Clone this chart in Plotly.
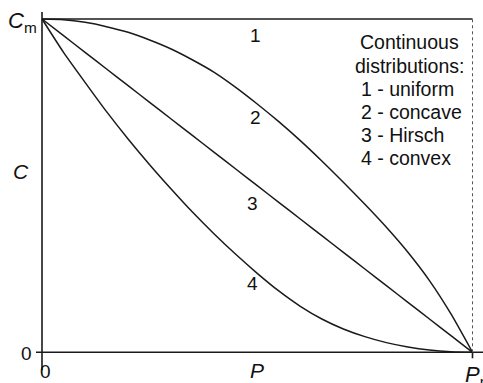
import plotly.graph_objects as go

# Relative pore size P/Pm and relative concentration C/Cm
P = [0.0, 0.05, 0.1, 0.15, 0.2, 0.25, 0.3, 0.35, 0.4, 0.45, 0.5,
     0.55, 0.6, 0.65, 0.7, 0.75, 0.8, 0.85, 0.9, 0.95, 1.0]
uniform = [1.0] * len(P)
concave = [1.0, 0.998, 0.99, 0.977, 0.96, 0.937, 0.91, 0.877, 0.84, 0.795, 0.745,
           0.692, 0.635, 0.574, 0.51, 0.444, 0.375, 0.3, 0.215, 0.115, 0.0]
hirsch = [1.0, 0.95, 0.9, 0.85, 0.8, 0.75, 0.7, 0.65, 0.6, 0.55, 0.5,
          0.45, 0.4, 0.35, 0.3, 0.25, 0.2, 0.15, 0.1, 0.05, 0.0]
convex = [1.0, 0.9, 0.81, 0.722, 0.64, 0.563, 0.49, 0.42, 0.355, 0.294, 0.237,
          0.184, 0.138, 0.1, 0.07, 0.047, 0.029, 0.016, 0.007, 0.002, 0.0]

curve_labels = ["1", "2", "3", "4"]
curve_label_pos = [(0.495, 0.95), (0.495, 0.705), (0.49, 0.445), (0.49, 0.205)]
legend_lines = ["Continuous", "distributions:", "1 - uniform", "2 - concave", "3 - Hirsch", "4 - convex"]

W, H = 483, 383
x0_px, x1_px = 42.0, 472.5
y1_px, y0_px = 19.0, 352.3
sx = x1_px - x0_px
sy = y0_px - y1_px
xr = [-x0_px / sx, (W - x0_px) / sx]
yr = [(y0_px - H) / sy, y0_px / sy]

FONT = "Liberation Sans, Arial, sans-serif"
LINE = dict(color="#1a1a1a", width=1.5)

fig = go.Figure()
for ys in (uniform, concave, hirsch, convex):
    fig.add_trace(go.Scatter(x=P, y=ys, mode="lines", line=dict(LINE, shape="spline", smoothing=0.6),
                             hoverinfo="skip", showlegend=False))

shapes = [
    # axes
    dict(type="line", x0=0, x1=0, y0=-18 / sy, y1=1 + 7 / sy, line=dict(color="#1a1a1a", width=1.6)),
    dict(type="line", x0=-6 / sx, x1=xr[1], y0=0, y1=0, line=dict(color="#1a1a1a", width=1.6)),
    # tick under Pm
    dict(type="line", x0=1, x1=1, y0=0, y1=-6 / sy, line=dict(color="#1a1a1a", width=1.6)),
    # dotted guide at Pm
    dict(type="line", x0=1, x1=1, y0=0, y1=1, line=dict(color="#555555", width=1, dash="dot")),
]

ann = []
def txt(x, y, s, size=18, **kw):
    ann.append(dict(x=x, y=y, xref="x", yref="y", text=s, showarrow=False,
                    font=dict(family=FONT, size=size, color="#111111"), **kw))

def px(xp, yp):
    return (xp - x0_px) / sx, (y0_px - yp) / sy

# axis labels
txt(*px(22, 22), "<i>C</i><sub>m</sub>", size=22)
txt(*px(21, 171), "<i>C</i>", size=21)
txt(*px(26, 353), "0", size=19)
txt(*px(45, 371), "0", size=19)
txt(*px(257, 370), "<i>P</i>", size=21)
txt(*px(479, 376), "<i>P</i><sub>m</sub>", size=22)

# curve numbers
for lab, (cx, cy) in zip(curve_labels, curve_label_pos):
    txt(cx, cy, lab, size=19)

# legend block
ys_leg = [42, 66, 89, 112, 135, 158]
for i, (s, yp) in enumerate(zip(legend_lines, ys_leg)):
    if i < 2:
        txt(*px(409, yp), s, size=19.5)
    else:
        txt(*px(359, yp), s, size=19.5, xanchor="left")

fig.update_layout(
    width=W, height=H,
    margin=dict(l=0, r=0, t=0, b=0),
    paper_bgcolor="white", plot_bgcolor="white",
    xaxis=dict(range=xr, visible=False, fixedrange=True),
    yaxis=dict(range=yr, visible=False, fixedrange=True),
    shapes=shapes, annotations=ann,
)

fig.write_html("out.html")
